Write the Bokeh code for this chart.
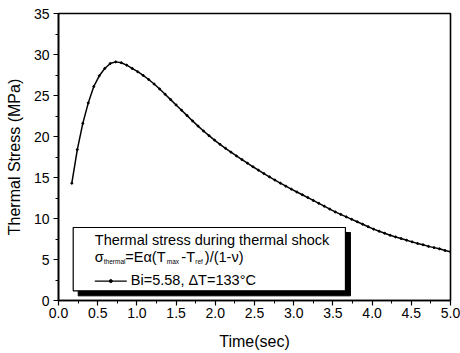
from bokeh.plotting import figure
from bokeh.models import Range1d, FixedTicker, PrintfTickFormatter, Label, BoxAnnotation
from bokeh.embed import file_html
from bokeh.resources import INLINE

# ---- data ----
time_sec = [0.17, 0.24, 0.31, 0.38, 0.45, 0.52, 0.59, 0.66, 0.73, 0.80,
            0.87, 0.94, 1.01, 1.08, 1.15, 1.22, 1.29, 1.36, 1.43, 1.50,
            1.57, 1.64, 1.71, 1.78, 1.85, 1.92, 1.99, 2.06, 2.13, 2.20,
            2.27, 2.34, 2.41, 2.48, 2.55, 2.62, 2.69, 2.76, 2.83, 2.90,
            2.97, 3.04, 3.11, 3.18, 3.25, 3.32, 3.39, 3.46, 3.53, 3.60,
            3.67, 3.74, 3.81, 3.88, 3.95, 4.02, 4.09, 4.16, 4.23, 4.30,
            4.37, 4.44, 4.51, 4.58, 4.65, 4.72, 4.79, 4.86, 4.93, 5.00]
stress_mpa = [14.3, 18.4, 21.6, 24.1, 26.1, 27.4, 28.3, 28.9, 29.1, 29.0,
              28.7, 28.3, 27.9, 27.45, 26.95, 26.4, 25.8, 25.15, 24.5, 23.85,
              23.2, 22.55, 21.9, 21.27, 20.67, 20.1, 19.56, 19.05, 18.56, 18.09,
              17.63, 17.18, 16.74, 16.31, 15.89, 15.48, 15.08, 14.69, 14.31, 13.94,
              13.58, 13.23, 12.9, 12.55, 12.2, 11.85, 11.5, 11.15, 10.8, 10.5,
              10.2, 9.9, 9.6, 9.3, 9.0, 8.7, 8.45, 8.2, 7.95, 7.75,
              7.55, 7.35, 7.15, 6.95, 6.8, 6.6, 6.45, 6.3, 6.1, 5.95]

x_ticks = [0.0, 0.5, 1.0, 1.5, 2.0, 2.5, 3.0, 3.5, 4.0, 4.5, 5.0]
y_ticks = [0, 5, 10, 15, 20, 25, 30, 35]

legend_title = "Thermal stress during thermal shock"
series_label = "Bi=5.58, \u0394T=133\u00b0C"

FONT = "Liberation Sans"

p = figure(width=460, height=353, x_range=Range1d(0, 5), y_range=Range1d(0, 35),
           output_backend="svg", toolbar_location=None,
           min_border_left=58, min_border_right=10, min_border_top=13, min_border_bottom=53)
p.background_fill_color = "white"
p.border_fill_color = "white"
p.grid.visible = False
p.outline_line_color = "black"
p.outline_line_width = 1.6

x_minor = [(a + b) / 2 for a, b in zip(x_ticks[:-1], x_ticks[1:])]
y_minor = [(a + b) / 2 for a, b in zip(y_ticks[:-1], y_ticks[1:])]
p.xaxis.ticker = FixedTicker(ticks=x_ticks, minor_ticks=x_minor)
p.yaxis.ticker = FixedTicker(ticks=y_ticks, minor_ticks=y_minor)
p.xaxis.formatter = PrintfTickFormatter(format="%.1f")
p.yaxis.formatter = PrintfTickFormatter(format="%d")

for ax in (p.xaxis, p.yaxis):
    ax.axis_line_color = "black"
    ax.axis_line_width = 1.6
    ax.major_tick_line_color = "black"
    ax.minor_tick_line_color = "black"
    ax.major_tick_line_width = 1.2
    ax.minor_tick_line_width = 1
    ax.major_tick_out = 5
    ax.major_tick_in = 0
    ax.minor_tick_out = 3
    ax.minor_tick_in = 0
    ax.major_label_text_font = FONT
    ax.major_label_text_font_size = "14px"
    ax.major_label_text_color = "black"
    ax.axis_label_text_font = FONT
    ax.axis_label_text_font_size = "16px"
    ax.axis_label_text_font_style = "normal"
    ax.axis_label_text_color = "black"

p.xaxis.axis_label = "Time(sec)"
p.yaxis.axis_label = "Thermal Stress (MPa)"
p.xaxis.major_label_standoff = 2
p.xaxis.axis_label_standoff = 12
p.yaxis.major_label_standoff = 4
p.yaxis.axis_label_standoff = 8

# data curve
p.line(time_sec, stress_mpa, line_color="black", line_width=1.5)
p.scatter(time_sec, stress_mpa, size=2, marker="circle", fill_color="black", line_color="black")

# legend box with drop shadow
bx0, bx1, by0, by1 = 0.1875, 3.66, 1.18, 8.9
sdx, sdy = 0.064, 0.61
p.add_layout(BoxAnnotation(left=bx0 + sdx, right=bx1 + sdx, bottom=by0 - sdy, top=by1 - sdy,
                           fill_color="black", fill_alpha=1, line_color="black", line_alpha=1))
p.add_layout(BoxAnnotation(left=bx0, right=bx1, bottom=by0, top=by1,
                           fill_color="white", fill_alpha=1, line_color="black",
                           line_width=1.2, line_alpha=1))

tx = 0.463
def lab(text, x_off, y, size, y_off=0):
    p.add_layout(Label(x=tx, y=y, x_offset=x_off, y_offset=y_off, text=text,
                       text_font=FONT, text_font_size=size, text_color="black",
                       text_baseline="alphabetic", text_align="left"))

lab(legend_title, 0, 7.37, "14.5px")

main, sub = "14.5px", "6.5px"
y2 = 5.3
lab("\u03c3", 0, y2, main)
lab("thermal", 9, y2, sub, -4)
lab("=E\u03b1(T", 30.5, y2, main)
lab("max", 72, y2, sub, -4)
lab("-T", 86.5, y2, main)
lab("ref", 100.5, y2, sub, -4)
lab(")/(1-\u03bd)", 110, y2, main)

# legend sample line with marker (drawn above the legend box)
ly = 2.37
r1 = p.line([tx, tx + 32 / 78.4], [ly, ly], line_color="black", line_width=1.2)
r2 = p.scatter([tx + 16 / 78.4], [ly], size=3, marker="circle", fill_color="black", line_color="black")
r1.level = "overlay"
r2.level = "overlay"
lab(series_label, 36, 2.55, main)

open("out.html", "w").write(file_html(p, INLINE))
